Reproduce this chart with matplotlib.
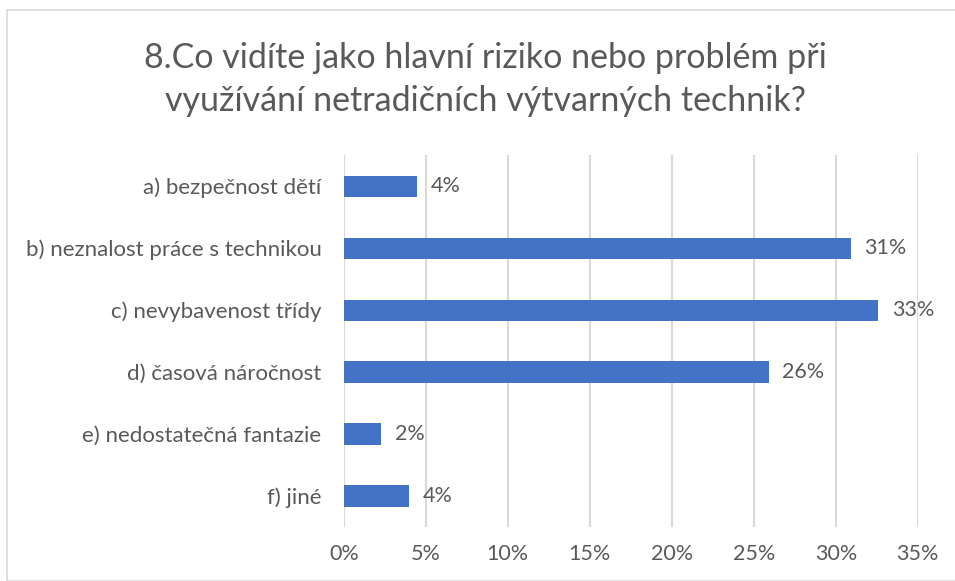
import matplotlib.pyplot as plt
from matplotlib.patches import Rectangle
from matplotlib.ticker import FuncFormatter

plt.rcParams['font.family'] = ['Lato', 'DejaVu Sans']

categories = ['a) bezpečnost dětí', 'b) neznalost práce s technikou', 'c) nevybavenost třídy',
              'd) časová náročnost', 'e) nedostatečná fantazie', 'f) jiné']
values = [4.45, 30.9, 32.6, 25.9, 2.26, 3.96]
value_labels = ['4%', '31%', '33%', '26%', '2%', '4%']
x_ticks = [0, 5, 10, 15, 20, 25, 30, 35]

text_color = '#595959'
bar_color = '#4472C4'
grid_color = '#D9D9D9'

fig = plt.figure(figsize=(9.55, 5.81), dpi=100)
ax = fig.add_axes([0.360, 0.093, 0.601, 0.640])

# chart border
fig.patches.append(Rectangle((7 / 955, 0), 1, 1 - 10 / 581, transform=fig.transFigure,
                             fill=False, edgecolor=grid_color, linewidth=1.2))

y = range(len(categories))
ax.barh(y, values, height=0.34, color=bar_color, zorder=3)

for i, (v, lab) in enumerate(zip(values, value_labels)):
    ax.annotate(lab, (v, i), xytext=(10, 0), textcoords='offset points',
                va='center', ha='left', fontsize=15.5, color=text_color)

ax.set_xlim(0, 35)
ax.set_ylim(len(categories) - 0.5, -0.5)
ax.set_xticks(x_ticks)
ax.xaxis.set_major_formatter(FuncFormatter(lambda v, p: f'{v:.0f}%'))
ax.set_yticks(list(y))
ax.set_yticklabels(categories)
ax.tick_params(axis='both', length=0, labelsize=15.5, labelcolor=text_color)
ax.tick_params(axis='y', labelsize=16, pad=16)
ax.tick_params(axis='x', pad=12)
ax.grid(axis='x', color=grid_color, linewidth=1.5, zorder=0)
for s in ax.spines.values():
    s.set_visible(False)

fig.text(0.508, 0.863, '8.Co vidíte jako hlavní riziko nebo problém při\nvyužívání netradičních výtvarných technik?',
         ha='center', va='center', fontsize=24.5, color=text_color, linespacing=1.4)

fig.savefig('out.png', dpi=100)
